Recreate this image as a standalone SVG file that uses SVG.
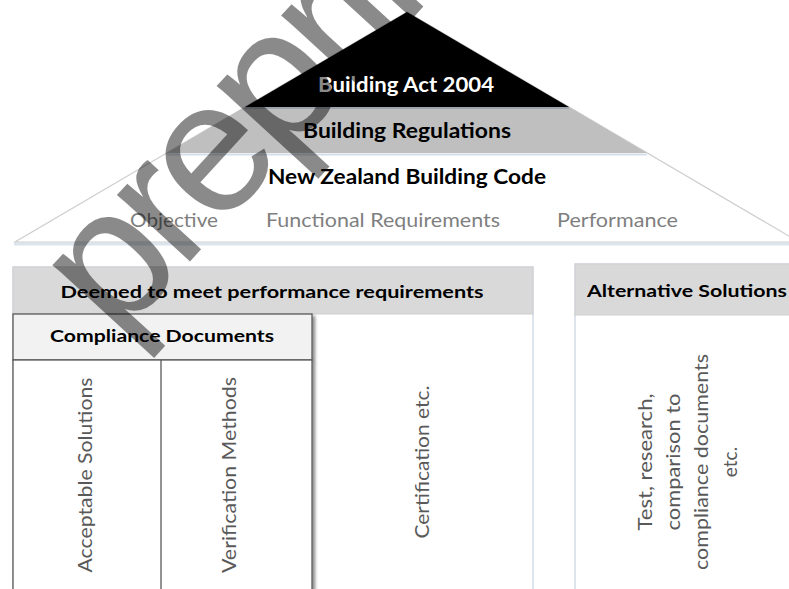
<svg xmlns="http://www.w3.org/2000/svg" width="789" height="589" viewBox="0 0 789 589">
<style>
.hb{font-family:Lato,"Liberation Sans",sans-serif;font-weight:bold;font-size:20px;text-anchor:middle}
.hd{font-family:Lato,"Liberation Sans",sans-serif;font-weight:bold;font-size:17px;text-anchor:middle;fill:#000}
.gt{font-family:Lato,"Liberation Sans",sans-serif;font-size:19px;fill:#7f7f7f}
.vt{font-family:Lato,"Liberation Sans",sans-serif;font-size:19px;fill:#595959;text-anchor:middle}
.lb{fill:#fff;stroke:#c9d3df;stroke-width:1.2}
.hdr{fill:#d9d9d9;stroke:#cfcfcf;stroke-width:1}
.dk{fill:none;stroke:#595959;stroke-width:1.3}
.wm{font-family:"Liberation Sans",Arial,sans-serif;font-size:187px;letter-spacing:-9px;fill:#000;fill-opacity:0.46}
</style>
<defs>
<filter id="sh" x="-5%" y="-5%" width="115%" height="115%">
<feDropShadow dx="2.5" dy="2.5" stdDeviation="1.5" flood-color="#000" flood-opacity="0.45"/>
</filter>
</defs>
<rect width="789" height="589" fill="#fff"/>
<g id="pyramid">
<line x1="14" y1="244" x2="789" y2="244" stroke="#dce5ef" stroke-width="3"/>
<polygon points="407,12 15,242 799,242" fill="#fff" stroke="#cfcfcf" stroke-width="1.2"/>
<polygon points="245,107 569,107 647,153 167,153" fill="#bfbfbf"/>
<line x1="167" y1="154.5" x2="647" y2="154.5" stroke="#d6dfe9" stroke-width="2"/>
<polygon points="407,12 245,107 569,107" fill="#000"/>
<line x1="245" y1="108" x2="569" y2="108" stroke="#8e9aa8" stroke-width="1.5"/>
</g>
<g id="act"><text class="hb" x="406" y="92" fill="#fff" textLength="176" lengthAdjust="spacingAndGlyphs">Building Act 2004</text></g>
<g id="regs"><text class="hb" x="407" y="138" fill="#000" textLength="208" lengthAdjust="spacingAndGlyphs">Building Regulations</text></g>
<g id="code"><text class="hb" x="407" y="184" fill="#000" textLength="278" lengthAdjust="spacingAndGlyphs">New Zealand Building Code</text></g>
<g id="code-parts">
<text class="gt" x="130" y="227" textLength="88" lengthAdjust="spacingAndGlyphs">Objective</text>
<text class="gt" x="266" y="227" textLength="234" lengthAdjust="spacingAndGlyphs">Functional Requirements</text>
<text class="gt" x="557" y="227" textLength="121" lengthAdjust="spacingAndGlyphs">Performance</text>
</g>
<g id="deemed">
<rect class="lb" x="13" y="267" width="520" height="330"/>
<rect class="hdr" x="13" y="267" width="520" height="47"/>
<text class="hd" x="272" y="298" textLength="423" lengthAdjust="spacingAndGlyphs">Deemed to meet performance requirements</text>
</g>
<g id="compliance" filter="url(#sh)">
<rect x="13" y="314" width="299" height="46" fill="#f2f2f2" stroke="#595959" stroke-width="1.3"/>
<rect x="13" y="360" width="299" height="240" fill="#fff" stroke="#595959" stroke-width="1.3"/>
</g>
<g id="compliance-labels">
<line class="dk" x1="161" y1="360" x2="161" y2="595"/>
<text class="hd" x="162" y="342" textLength="224" lengthAdjust="spacingAndGlyphs">Compliance Documents</text>
</g>
<g id="acceptable"><text class="vt" transform="translate(92,475) rotate(-90)" textLength="195" lengthAdjust="spacingAndGlyphs">Acceptable Solutions</text></g>
<g id="verification"><text class="vt" transform="translate(236,475) rotate(-90)" textLength="196" lengthAdjust="spacingAndGlyphs">Verification Methods</text></g>
<g id="certification"><text class="vt" transform="translate(429,462) rotate(-90)" textLength="153" lengthAdjust="spacingAndGlyphs">Certification etc.</text></g>
<g id="alternative">
<rect class="lb" x="575" y="264" width="230" height="333"/>
<rect class="hdr" x="575" y="264" width="230" height="51"/>
<text class="hd" x="687" y="297" textLength="200" lengthAdjust="spacingAndGlyphs">Alternative Solutions</text>
<g transform="translate(0,462) rotate(-90)">
<text class="vt" x="0" y="652" textLength="137" lengthAdjust="spacingAndGlyphs">Test, research,</text>
<text class="vt" x="0" y="680" textLength="137" lengthAdjust="spacingAndGlyphs">comparison to</text>
<text class="vt" x="0" y="708" textLength="216" lengthAdjust="spacingAndGlyphs">compliance documents</text>
<text class="vt" x="0" y="737">etc.</text>
</g>
</g>
<g id="watermark"><text class="wm" transform="translate(117,341) rotate(-47.5)">preprints</text></g>
</svg>
